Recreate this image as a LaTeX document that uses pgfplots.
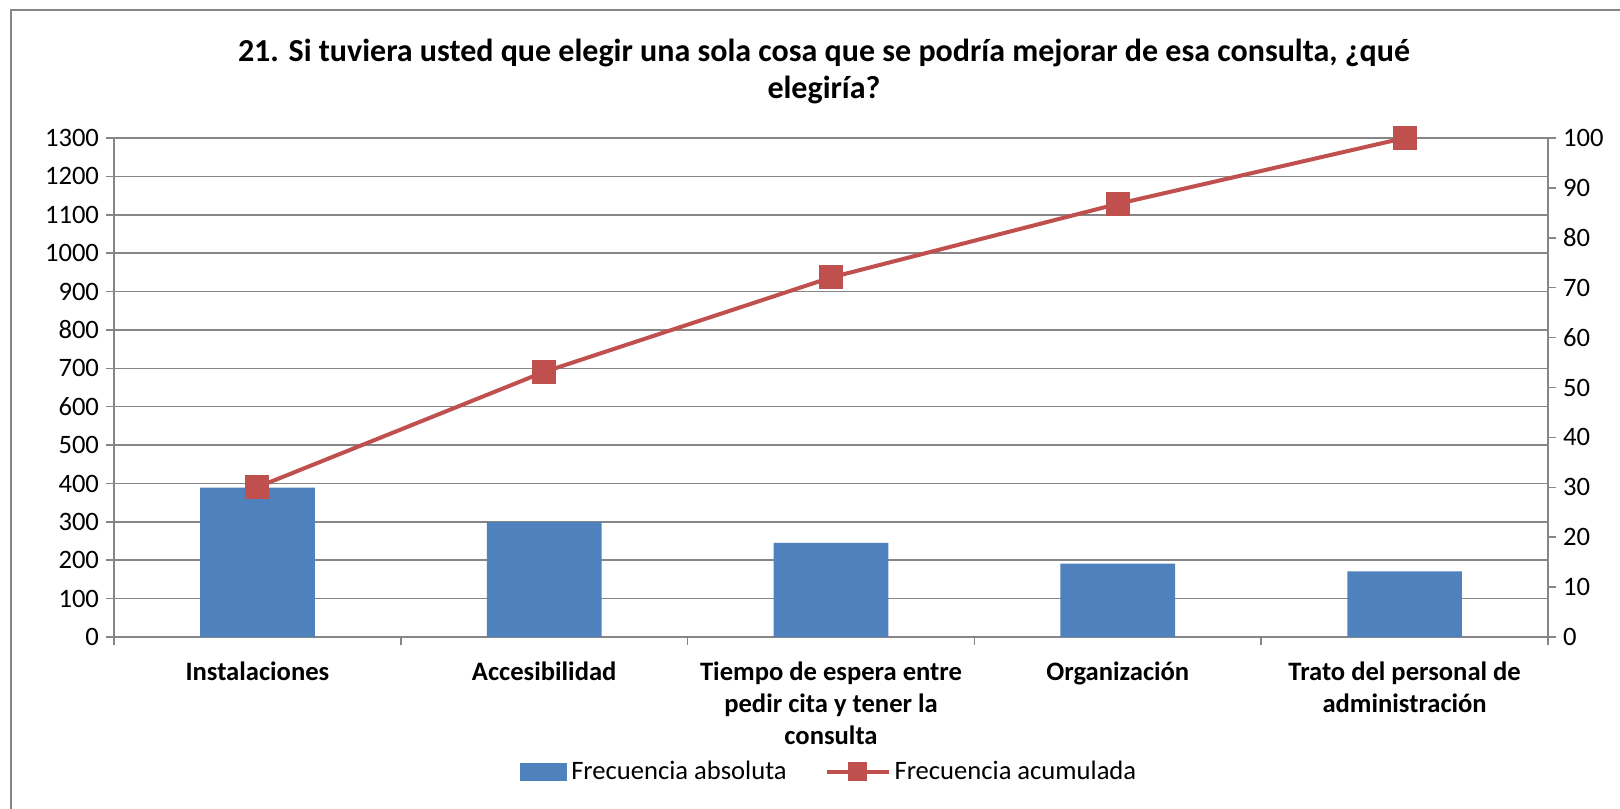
\documentclass[border=0pt]{standalone}
\usepackage{fontspec}
\setmainfont{Carlito}
\usepackage{pgfplots}
\pgfplotsset{compat=1.18}
\definecolor{barblue}{HTML}{4F81BD}
\definecolor{linered}{HTML}{C0504D}
\definecolor{gridgray}{HTML}{868686}
\newcommand{\fs}{\fontsize{13.3bp}{16bp}\selectfont}
\pgfplotsset{
  mylinelegend/.style={legend image code/.code={\draw[mark repeat=2,mark phase=2,##1,mark size=3.75bp] plot coordinates {(0bp,0bp) (15.5bp,0bp) (31bp,0bp)};}},
  mybarlegend/.style={legend image code/.code={\fill[barblue] (0bp,-4.25bp) rectangle (23bp,4.25bp);}},
}
\begin{document}
\begin{tikzpicture}[x=1bp,y=1bp]
\useasboundingbox (0,0) rectangle (810,404);
\draw[gridgray, line width=1bp] (5.5,-10) -- (5.5,399) -- (830,399);
\node[font=\bfseries\fontsize{16bp}{18.5bp}\selectfont, align=center, anchor=base, inner sep=0pt] at (412,355)
  {21. Si tuviera usted que elegir una sola cosa que se podría mejorar de esa consulta, ¿qué\\elegiría?};
\begin{axis}[
  at={(57bp,85.5bp)}, anchor=south west,
  width=717bp, height=249.5bp, scale only axis,
  xmin=-0.5, xmax=4.5, ymin=0, ymax=1300,
  ytick={0,100,...,1300},
  xtick={0,1,2,3,4},
  xticklabels={Instalaciones,Accesibilidad,{Tiempo de espera entre\\pedir cita y tener la\\consulta},Organización,{Trato del personal de\\administración}},
  minor xtick={-0.5,0.5,...,4.5},
  major x tick style={draw=none},
  xtick pos=bottom, ytick pos=left,
  tick align=outside,
  major tick length=4bp, minor tick length=4bp,
  tick style={gridgray, line width=0.75bp},
  axis line style={gridgray, line width=0.75bp},
  ymajorgrids, grid style={gridgray, line width=0.75bp},
  xticklabel style={font=\bfseries\fs, align=center, text depth=0pt, yshift=-5bp},
  yticklabel style={font=\fs},
  /pgf/number format/assume math mode=true,
  /pgf/number format/1000 sep={},
]
\addplot[ybar, bar width=0.4, fill=barblue, draw=none] coordinates {(0,389) (1,299) (2,245) (3,191) (4,171)};
\end{axis}
\begin{axis}[
  at={(57bp,85.5bp)}, anchor=south west,
  width=717bp, height=249.5bp, scale only axis,
  xmin=-0.5, xmax=4.5, ymin=0, ymax=100,
  ytick={0,10,...,100},
  axis x line=none, axis y line*=right,
  tick align=outside, major tick length=4bp,
  tick style={gridgray, line width=0.75bp},
  axis line style={gridgray, line width=0.75bp, -},
  yticklabel style={font=\fs},
  /pgf/number format/assume math mode=true,
  clip=false,
  legend columns=2,
  legend style={at={(0.279,-0.27)}, anchor=west, draw=none, fill=none, font=\fs,
    /tikz/every even column/.append style={column sep=17bp}},
]
\addlegendimage{mybarlegend}
\addlegendentry{Frecuencia absoluta}
\addplot[linered, line width=2bp, mark=square*, mark size=5bp, mark options={solid}, mylinelegend]
  coordinates {(0,30.04) (1,53.13) (2,72.05) (3,86.80) (4,100)};
\addlegendentry{Frecuencia acumulada}
\end{axis}
\end{tikzpicture}
\end{document}
